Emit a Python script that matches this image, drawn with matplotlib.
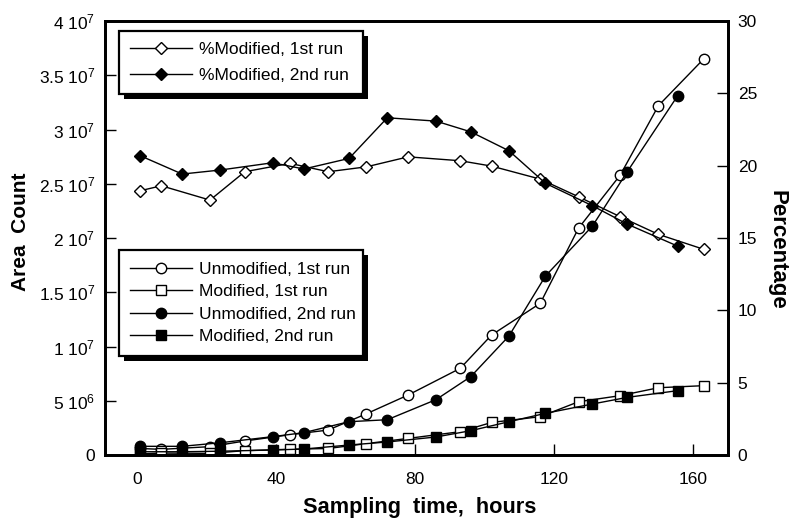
import matplotlib
matplotlib.use("Agg")
import matplotlib.pyplot as plt
from matplotlib.patches import Rectangle

plt.rcParams['font.family'] = ['Liberation Sans', 'DejaVu Sans']
plt.rcParams['mathtext.fontset'] = 'custom'
plt.rcParams['mathtext.rm'] = 'Liberation Sans'
plt.rcParams['mathtext.it'] = 'Liberation Sans:italic'
plt.rcParams['mathtext.bf'] = 'Liberation Sans:bold'

# Sampling times (hours)
t_run1 = [1, 7, 21, 31, 44, 55, 66, 78, 93, 102, 116, 127, 139, 150, 163]
t_run2 = [1, 13, 24, 39, 48, 61, 72, 86, 96, 107, 117.5, 131, 141, 155.5]

# Area counts (units of 1e6)
unmod_run1 = [0.6, 0.52, 0.77, 1.29, 1.87, 2.3, 3.8, 5.53, 7.99, 11.06, 13.98, 20.9, 25.8, 32.2, 36.5]
mod_run1 = [0.1, 0.18, 0.15, 0.4, 0.53, 0.6, 1.05, 1.53, 2.15, 3.0, 3.53, 4.91, 5.47, 6.2, 6.39]
unmod_run2 = [0.8, 0.8, 1.13, 1.69, 2.06, 3.07, 3.25, 5.1, 7.22, 10.97, 16.5, 21.1, 26.1, 33.1]
mod_run2 = [0.3, 0.3, 0.35, 0.46, 0.55, 0.92, 1.2, 1.66, 2.24, 3.07, 3.84, 4.7, 5.31, 5.93]

# Percentage modified
pct_run1 = [18.27, 18.61, 17.62, 19.58, 20.16, 19.58, 19.92, 20.61, 20.34, 19.97, 19.07, 17.85, 16.47, 15.25, 14.22]
pct_run2 = [20.68, 19.42, 19.70, 20.20, 19.77, 20.50, 23.31, 23.08, 22.34, 21.03, 18.78, 17.23, 15.96, 14.44]

left_ticks = [0, 5e6, 1e7, 1.5e7, 2e7, 2.5e7, 3e7, 3.5e7, 4e7]
left_labels = ['0', r'5 10$^{6}$', r'1 10$^{7}$', r'1.5 10$^{7}$', r'2 10$^{7}$',
               r'2.5 10$^{7}$', r'3 10$^{7}$', r'3.5 10$^{7}$', r'4 10$^{7}$']
right_ticks = [0, 5, 10, 15, 20, 25, 30]
x_ticks = [0, 40, 80, 120, 160]

W, H = 792, 518
fig = plt.figure(figsize=(W / 100, H / 100), dpi=100)
ax = fig.add_axes([105 / W, 63 / H, 623 / W, 434 / H])
ax2 = ax.twinx()

lw = 1.0
scale = 1e6
ax.plot(t_run1, [v * scale for v in unmod_run1], '-o', color='black', lw=lw,
        mfc='white', mec='black', ms=7.5, mew=1.0, label='Unmodified, 1st run')
ax.plot(t_run1, [v * scale for v in mod_run1], '-s', color='black', lw=lw,
        mfc='white', mec='black', ms=7, mew=1.0, label='Modified, 1st run')
ax.plot(t_run2, [v * scale for v in unmod_run2], '-o', color='black', lw=lw,
        mfc='black', mec='black', ms=7.5, mew=1.0, label='Unmodified, 2nd run')
ax.plot(t_run2, [v * scale for v in mod_run2], '-s', color='black', lw=lw,
        mfc='black', mec='black', ms=7, mew=1.0, label='Modified, 2nd run')

ax2.plot(t_run1, pct_run1, '-D', color='black', lw=lw, mfc='white', mec='black',
         ms=6, mew=1.0, label='%Modified, 1st run')
ax2.plot(t_run2, pct_run2, '-D', color='black', lw=lw, mfc='black', mec='black',
         ms=6, mew=1.0, label='%Modified, 2nd run')

ax.set_xlim(-9.2, 170)
ax.set_ylim(0, 4e7)
ax2.set_ylim(0, 30)

ax.set_xticks(x_ticks)
ax.set_yticks(left_ticks, left_labels)
ax2.set_yticks(right_ticks)

for a in (ax, ax2):
    for s in a.spines.values():
        s.set_linewidth(2.0)
ax.tick_params(axis='both', direction='in', length=8, width=1.0, labelsize=12.5)
ax.tick_params(axis='y', pad=7)
ax.tick_params(axis='x', pad=12)
ax2.tick_params(axis='y', direction='in', length=8, width=1.0, labelsize=12.5, pad=7)

ax.set_ylabel('Area  Count', fontsize=15, fontweight='bold', va='center')
ax.yaxis.set_label_coords(-0.136, 0.514)
ax2.set_ylabel('Percentage', fontsize=16, fontweight='bold', rotation=270, va='center')
ax2.yaxis.set_label_coords(1.078, 0.472)
ax.set_xlabel('Sampling  time,  hours', fontsize=15.7, fontweight='bold', va='center')
ax.xaxis.set_label_coords(0.505, -0.122)

leg_kw = dict(fontsize=12.5, frameon=False, handlelength=3.6, handletextpad=0.4,
              borderpad=0.65, borderaxespad=0)

h2, l2 = ax2.get_legend_handles_labels()
leg1 = ax2.legend(h2, l2, loc='upper left', bbox_to_anchor=(0.022, 0.977),
                  labelspacing=0.6, **leg_kw)
ax2.add_artist(leg1)
h1, l1 = ax.get_legend_handles_labels()
leg2 = ax2.legend(h1, l1, loc='upper left', bbox_to_anchor=(0.022, 0.472),
                  labelspacing=0.43, **leg_kw)

# Boxed legends of equal width with a solid drop shadow
fig.canvas.draw()
box_w = 244
for leg in (leg1, leg2):
    leg.set_zorder(10)
    bb = leg.get_window_extent()
    x0, y0, h = bb.x0, bb.y0, bb.height
    shadow = Rectangle(((x0 + 5) / W, (y0 - 5) / H), box_w / W, h / H,
                       transform=fig.transFigure, facecolor='black',
                       edgecolor='none', zorder=8, clip_on=False)
    frame = Rectangle((x0 / W, y0 / H), box_w / W, h / H,
                      transform=fig.transFigure, facecolor='white',
                      edgecolor='black', linewidth=1.6, zorder=9, clip_on=False)
    ax2.add_artist(shadow)
    ax2.add_artist(frame)

fig.savefig('out.png', dpi=100)
